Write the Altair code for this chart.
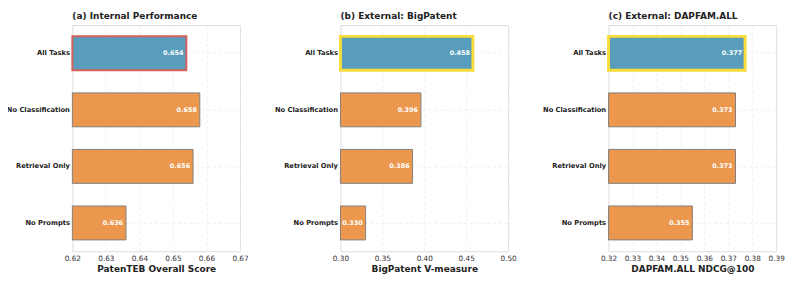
import altair as alt
import pandas as pd

categories = ["All Tasks", "No Classification", "Retrieval Only", "No Prompts"]
internal_scores = [0.654, 0.658, 0.656, 0.636]
bigpatent_scores = [0.458, 0.396, 0.386, 0.330]
dapfam_scores = [0.377, 0.373, 0.373, 0.355]

titles = ["(a) Internal Performance", "(b) External: BigPatent", "(c) External: DAPFAM.ALL"]
x_titles = ["PatenTEB Overall Score", "BigPatent V-measure", "DAPFAM.ALL NDCG@100"]
domains = [[0.62, 0.67], [0.30, 0.50], [0.32, 0.39]]
tick_values = [
    [0.62, 0.63, 0.64, 0.65, 0.66, 0.67],
    [0.30, 0.35, 0.40, 0.45, 0.50],
    [0.32, 0.33, 0.34, 0.35, 0.36, 0.37, 0.38, 0.39],
]
highlight_edges = ["#d65f5a", "#f8dc3a", "#f8dc3a"]
highlight_widths = [2, 3, 3]

BLUE = "#589ebc"
ORANGE = "#eb984e"
GRAY_EDGE = "#808080"
FONT = "DejaVu Sans"
GRID = "#ebebeb"


def panel(values, title, xtitle, domain, ticks, hedge, hwidth):
    df = pd.DataFrame({
        "cat": categories,
        "val": values,
        "fill": [BLUE if c == "All Tasks" else ORANGE for c in categories],
        "edge": [hedge if c == "All Tasks" else GRAY_EDGE for c in categories],
        "ew": [hwidth if c == "All Tasks" else 1 for c in categories],
    })
    base = alt.Chart(df)
    y = alt.Y(
        "cat:N", sort=categories,
        scale=alt.Scale(paddingInner=0.4, paddingOuter=0.2),
        axis=alt.Axis(title=None, labelFont=FONT, labelFontSize=6.9, labelFontWeight="bold",
                      labelColor="#222222", labelPadding=3, ticks=False, domain=False,
                      grid=True, bandPosition=0.5, gridColor=GRID, gridDash=[3, 3],
                      gridWidth=0.8),
    )
    x = alt.X(
        "val:Q",
        scale=alt.Scale(domain=domain, nice=False, zero=False),
        axis=alt.Axis(values=ticks, format=".2f", title=xtitle, labelFont=FONT, labelFontSize=7.5,
                      labelColor="#333333", labelPadding=3.5, ticks=False, domain=False,
                      labelFlush=False, labelOverlap=False, tickCount=len(ticks),
                      titleFont=FONT, titleFontSize=9.2, titleFontWeight="bold",
                      titleColor="#222222", titlePadding=2.5, grid=True,
                      gridColor=GRID, gridDash=[3, 3], gridWidth=0.8),
    )
    bars = base.mark_bar().encode(
        x=x,
        x2=alt.datum(domain[0]),
        y=y,
        fill=alt.Fill("fill:N", scale=None),
        stroke=alt.Stroke("edge:N", scale=None),
        strokeWidth=alt.StrokeWidth("ew:Q", scale=None),
    )
    labels = base.mark_text(align="right", baseline="middle", dx=-3, color="white",
                            fontWeight="bold", fontSize=6.6, font=FONT).encode(
        x=x,
        y=y,
        text=alt.Text("val:Q", format=".3f"),
    )
    return alt.layer(bars, labels).properties(
        width=172, height=232,
        title=alt.TitleParams(title, anchor="start", frame="group", font=FONT, fontSize=9.2,
                              fontWeight="bold", color="#222222", offset=4),
    )


panels = [
    panel(vals, titles[i], x_titles[i], domains[i], tick_values[i],
          highlight_edges[i], highlight_widths[i])
    for i, vals in enumerate([internal_scores, bigpatent_scores, dapfam_scores])
]

chart = alt.hconcat(*panels, spacing=25).properties(
    padding={"left": -3, "top": 0, "right": 0, "bottom": 0}
).configure_view(stroke="#cccccc", strokeWidth=1).configure_axis(
    labelOverlap=False
).configure(background="white")

chart.save("out.html", embed_options={"renderer": "svg", "actions": False})
